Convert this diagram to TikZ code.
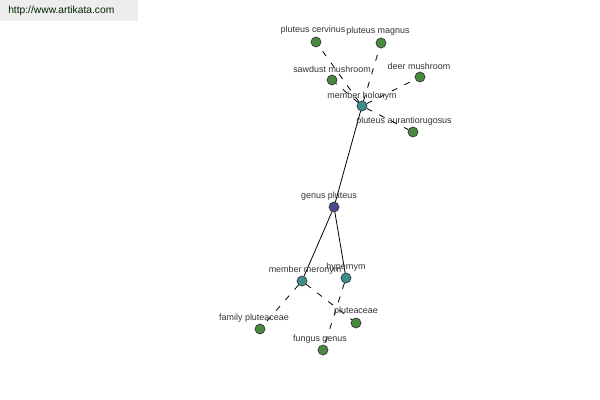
\documentclass[tikz,border=0pt]{standalone}
\usepackage{fontspec}
\setmainfont{Liberation Sans}
\begin{document}
\begin{tikzpicture}[x=0.75pt,y=-0.75pt,
  dot/.style={circle,draw=black!80,line width=0.5pt,minimum size=7.5pt,inner sep=0pt},
  hub/.style={dot,fill=black!100!blue!60!white},
  rootdot/.style={dot,fill=rootc},
  reldot/.style={dot,fill=relc},
  leafdot/.style={dot,fill=leafc},
  lbl/.style={text=black!80,font=\fontsize{6.7pt}{7pt}\selectfont,inner sep=0pt},
  solidedge/.style={draw=black,line width=0.6pt},
  dashedge/.style={draw=black,line width=0.6pt,dash pattern=on 4.5pt off 6pt}]
\definecolor{rootc}{HTML}{4A4A90}
\definecolor{relc}{HTML}{3E8E8E}
\definecolor{leafc}{HTML}{4A8A40}
\useasboundingbox (0,0) rectangle (600,400);
\fill[white] (0,0) rectangle (600,400);
\fill[black!7] (0,0) rectangle (138,21);
\node[anchor=west,inner sep=0pt,text=black!75!green!60!black,font=\fontsize{7.7pt}{8pt}\selectfont] (url) at (8,11) {http://www.artikata.com};
% nodes
\node[rootdot] (gp) at (334,207) {};
\node[reldot] (mh) at (362,106) {};
\node[reldot] (mm) at (302,281) {};
\node[reldot] (hy) at (346,278) {};
\node[leafdot] (pc) at (316,42) {};
\node[leafdot] (pm) at (381,43) {};
\node[leafdot] (sm) at (332,80) {};
\node[leafdot] (dm) at (420,77) {};
\node[leafdot] (pa) at (413,132) {};
\node[leafdot] (fp) at (260,329) {};
\node[leafdot] (pl) at (356,323) {};
\node[leafdot] (fg) at (323,350) {};
% edges
\begin{scope}[on background layer/.style={}]
\draw[solidedge] (gp) -- (mh);
\draw[solidedge] (gp) -- (mm);
\draw[solidedge] (gp) -- (hy);
\draw[dashedge] (mh) -- (pc);
\draw[dashedge] (mh) -- (pm);
\draw[dashedge] (mh) -- (sm);
\draw[dashedge] (mh) -- (dm);
\draw[dashedge] (mh) -- (pa);
\draw[dashedge] (mm) -- (fp);
\draw[dashedge] (mm) -- (pl);
\draw[dashedge] (hy) -- (fg);
\end{scope}
% labels
\node[lbl] (lgp) at (329,196) {genus pluteus};
\node[lbl] (lmh) at (362,96) {member holonym};
\node[lbl] (lmm) at (305,270) {member meronym};
\node[lbl] (lhy) at (346,267) {hypernym};
\node[lbl] (lpc) at (313,30) {pluteus cervinus};
\node[lbl] (lpm) at (378,31) {pluteus magnus};
\node[lbl] (lsm) at (332,69) {sawdust mushroom};
\node[lbl] (ldm) at (419,66) {deer mushroom};
\node[lbl] (lpa) at (404,121) {pluteus aurantiorugosus};
\node[lbl] (lfp) at (254,318) {family pluteaceae};
\node[lbl] (lpl) at (356,311) {pluteaceae};
\node[lbl] (lfg) at (320,339) {fungus genus};
\end{tikzpicture}
\end{document}
